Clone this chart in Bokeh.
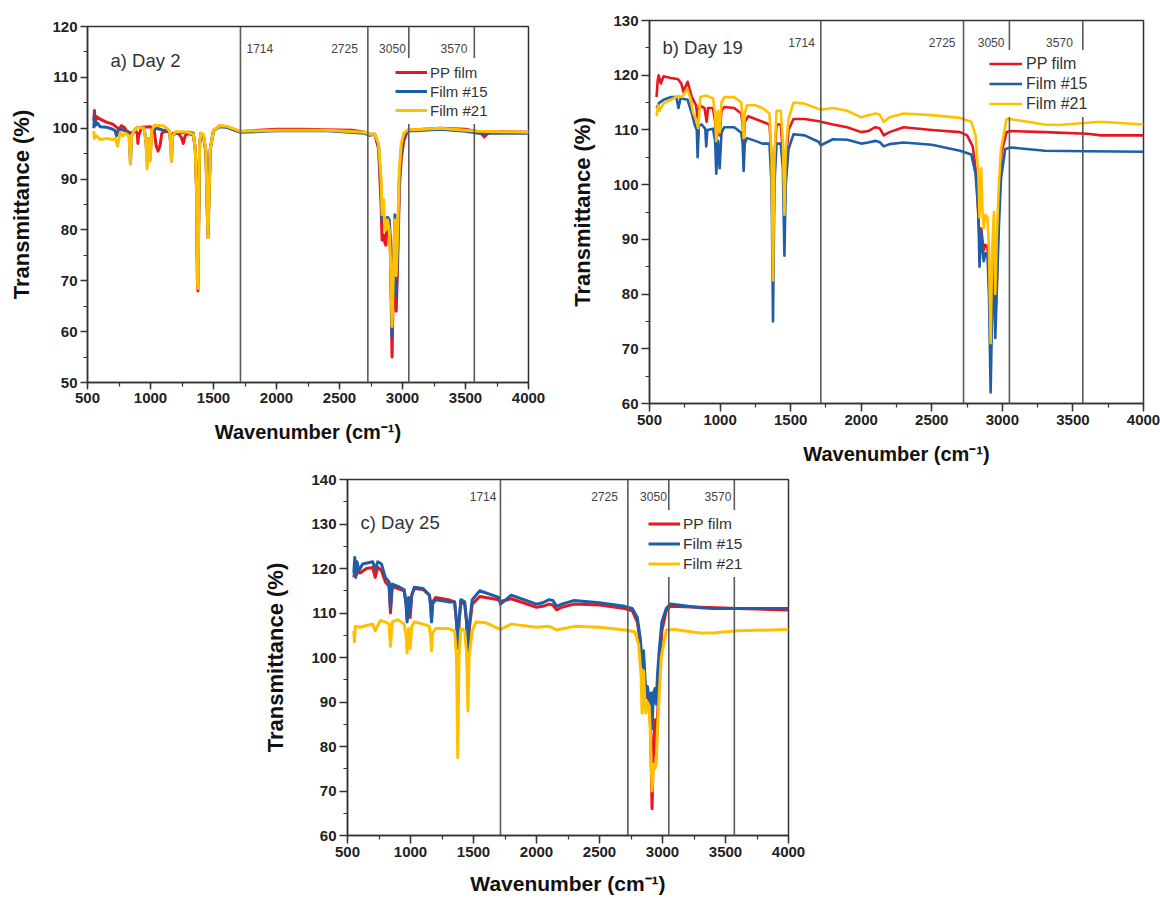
from bokeh.plotting import figure
from bokeh.models import (Span, Label, Legend, LegendItem, SingleIntervalTicker,
                          Range1d, Spacer)
from bokeh.layouts import row, column
from bokeh.embed import file_html
from bokeh.resources import INLINE

# ---------------- data ----------------
SERIES_NAMES = ["PP film", "Film #15", "Film #21"]
COLORS = ["#E8161E", "#1F5EA6", "#FFC000"]
MARK_WN = [1714, 2725, 3050, 3570]
MARK_TXT = ["1714", "2725", "3050", "3570"]

# ----- a) Day 2 -----
A_PP_WN = [550, 555, 560, 570, 600, 650, 700, 730, 750, 770, 790, 810, 841, 880, 895, 900, 905, 930, 1000, 1030, 1045, 1060, 1075, 1090, 1120, 1150, 1167, 1180, 1220, 1245, 1260, 1275, 1300, 1340, 1355, 1365, 1372, 1377, 1382, 1390, 1400, 1420, 1440, 1450, 1456, 1462, 1475, 1500, 1550, 1600, 1650, 1700, 1714, 1800, 2000, 2200, 2400, 2600, 2700, 2740, 2780, 2810, 2830, 2838, 2850, 2860, 2868, 2880, 2895, 2905, 2917, 2928, 2940, 2950, 2960, 2975, 2990, 3010, 3040, 3100, 3300, 3500, 3600, 3630, 3650, 3670, 3700, 3800, 4000]
A_PP_T = [101.5, 103.5, 101.0, 102.3, 101.8, 101.2, 100.8, 100.2, 99.8, 100.5, 100.2, 99.5, 99.0, 99.5, 99.0, 97.0, 98.5, 100.2, 100.3, 99.5, 96.5, 95.5, 96.5, 99.0, 99.5, 99.2, 97.5, 99.0, 99.0, 98.2, 97.0, 98.5, 99.0, 98.6, 96.0, 88.0, 70.0, 68.0, 80.0, 97.0, 98.5, 98.5, 95.0, 84.0, 78.5, 84.0, 96.0, 99.5, 100.5, 100.3, 99.8, 99.4, 99.3, 99.5, 99.8, 99.8, 99.7, 99.6, 99.2, 98.8, 98.8, 96.0, 85.0, 78.0, 79.0, 77.5, 77.0, 82.0, 80.0, 75.0, 55.0, 70.0, 80.0, 64.0, 72.0, 88.0, 94.0, 97.5, 99.5, 99.7, 100.0, 99.8, 99.3, 98.8, 98.3, 98.8, 99.3, 99.3, 99.2]

A_F15_WN = [550, 555, 560, 580, 600, 650, 700, 720, 730, 745, 770, 800, 830, 841, 850, 880, 900, 950, 965, 973, 985, 997, 1010, 1050, 1100, 1150, 1160, 1167, 1175, 1200, 1300, 1340, 1355, 1365, 1372, 1377, 1382, 1390, 1400, 1420, 1440, 1450, 1456, 1462, 1475, 1500, 1550, 1600, 1714, 2000, 2400, 2700, 2740, 2780, 2810, 2830, 2838, 2850, 2860, 2868, 2880, 2895, 2905, 2917, 2928, 2940, 2950, 2960, 2975, 2990, 3010, 3040, 3100, 3300, 3500, 3600, 4000]
A_F15_T = [100.0, 102.5, 100.5, 101.0, 100.3, 100.2, 99.8, 99.5, 98.5, 99.5, 99.8, 99.4, 99.0, 93.0, 98.5, 99.8, 100.2, 100.0, 97.0, 93.5, 98.0, 94.0, 99.5, 100.0, 99.6, 99.3, 97.0, 93.5, 98.5, 99.0, 99.2, 99.0, 96.0, 89.0, 74.0, 73.0, 82.0, 97.0, 99.0, 98.5, 95.5, 85.0, 79.0, 85.0, 96.0, 99.6, 100.3, 100.2, 99.2, 99.5, 99.5, 99.0, 98.6, 98.8, 96.5, 88.0, 82.0, 82.5, 81.0, 82.0, 82.5, 82.0, 78.0, 59.0, 72.0, 83.0, 67.0, 75.0, 90.0, 96.0, 98.5, 99.5, 99.5, 99.8, 99.4, 99.0, 99.0]

A_F21_WN = [550, 555, 570, 600, 650, 700, 722, 738, 760, 780, 800, 830, 841, 850, 870, 900, 950, 965, 973, 985, 997, 1010, 1030, 1100, 1130, 1150, 1160, 1167, 1175, 1200, 1250, 1300, 1340, 1355, 1365, 1372, 1377, 1382, 1390, 1400, 1420, 1440, 1450, 1456, 1462, 1475, 1500, 1550, 1600, 1714, 2000, 2400, 2700, 2740, 2780, 2810, 2830, 2838, 2850, 2860, 2868, 2880, 2895, 2905, 2917, 2928, 2940, 2950, 2960, 2975, 2990, 3010, 3040, 3100, 3300, 3500, 3600, 4000]
A_F21_T = [99.5, 98.0, 98.5, 97.8, 98.0, 97.8, 98.0, 96.5, 99.2, 98.5, 99.0, 98.5, 93.0, 98.5, 99.5, 100.2, 100.0, 97.0, 92.0, 98.0, 93.5, 99.5, 100.6, 100.5, 100.0, 99.5, 97.0, 93.5, 98.5, 99.3, 99.3, 99.2, 98.8, 96.0, 88.0, 70.0, 68.5, 80.0, 97.0, 99.0, 98.8, 95.5, 84.0, 78.5, 84.0, 96.0, 99.6, 100.5, 100.4, 99.4, 99.6, 99.6, 99.2, 98.8, 98.8, 97.0, 90.0, 83.0, 86.0, 80.0, 80.0, 82.0, 80.0, 74.0, 61.0, 72.0, 82.0, 71.0, 78.0, 92.0, 97.0, 99.0, 99.7, 99.7, 100.0, 99.6, 99.4, 99.2]

# ----- b) Day 19 -----
B_PP_WN = [550, 558, 565, 580, 600, 650, 700, 725, 740, 770, 800, 830, 841, 855, 890, 905, 915, 950, 965, 973, 985, 997, 1010, 1030, 1100, 1150, 1160, 1167, 1175, 1200, 1250, 1300, 1350, 1365, 1375, 1385, 1400, 1430, 1445, 1456, 1465, 1485, 1520, 1600, 1700, 1714, 1800, 1900, 2000, 2050, 2100, 2130, 2160, 2200, 2300, 2500, 2700, 2750, 2790, 2815, 2838, 2850, 2868, 2880, 2895, 2905, 2917, 2928, 2940, 2950, 2960, 2975, 2995, 3030, 3060, 3300, 3600, 3700, 4000]
B_PP_T = [116.0, 119.0, 120.0, 118.5, 119.8, 119.5, 119.3, 118.5, 117.0, 118.8, 116.0, 114.5, 112.0, 114.5, 114.0, 111.5, 114.0, 114.0, 111.5, 108.0, 112.0, 109.0, 113.5, 114.2, 114.0, 113.0, 111.0, 107.5, 111.5, 112.5, 112.0, 111.5, 111.0, 105.0, 84.0, 105.0, 111.0, 111.0, 106.0, 93.5, 104.0, 110.0, 112.0, 112.0, 111.6, 111.5, 111.0, 110.5, 109.6, 109.8, 110.5, 110.3, 109.0, 109.6, 110.5, 110.0, 109.6, 109.0, 107.0, 102.0, 90.0, 92.0, 88.0, 89.0, 88.5, 82.0, 72.0, 84.0, 86.0, 75.0, 82.0, 96.0, 106.0, 109.6, 109.8, 109.6, 109.3, 109.0, 109.0]

B_F15_WN = [550, 570, 600, 650, 690, 705, 720, 770, 800, 820, 835, 841, 850, 870, 895, 902, 910, 950, 965, 973, 985, 997, 1010, 1030, 1100, 1150, 1160, 1167, 1175, 1190, 1250, 1300, 1350, 1365, 1375, 1385, 1400, 1430, 1445, 1456, 1465, 1485, 1520, 1600, 1700, 1714, 1800, 1900, 2000, 2050, 2100, 2130, 2160, 2200, 2300, 2500, 2700, 2780, 2810, 2830, 2838, 2850, 2860, 2868, 2880, 2895, 2905, 2917, 2928, 2940, 2950, 2960, 2975, 2990, 3020, 3060, 3300, 3600, 4000]
B_F15_T = [114.0, 115.0, 115.5, 116.0, 116.0, 114.0, 115.8, 115.5, 113.0, 111.0, 110.0, 105.0, 110.8, 111.0, 110.2, 107.0, 110.0, 110.2, 108.0, 102.0, 108.0, 103.0, 109.5, 110.5, 110.5, 109.5, 107.5, 102.5, 107.5, 108.5, 108.0, 107.5, 107.5, 100.0, 75.0, 100.0, 107.5, 107.5, 103.0, 87.0, 100.0, 106.5, 109.2, 109.0, 107.8, 107.2, 108.3, 108.2, 107.5, 107.7, 108.0, 107.8, 107.0, 107.4, 107.7, 107.3, 106.2, 105.5, 102.0, 95.0, 85.0, 91.5, 88.0, 86.0, 87.5, 87.0, 80.0, 62.0, 78.0, 82.0, 72.0, 80.0, 92.0, 101.0, 106.5, 106.8, 106.2, 106.1, 106.0]

B_F21_WN = [550, 560, 570, 600, 650, 700, 730, 767, 790, 810, 830, 845, 860, 900, 950, 965, 973, 985, 997, 1010, 1030, 1100, 1150, 1160, 1167, 1175, 1190, 1250, 1300, 1350, 1365, 1375, 1385, 1400, 1430, 1445, 1456, 1465, 1485, 1520, 1600, 1700, 1714, 1800, 1900, 2000, 2050, 2100, 2130, 2160, 2200, 2300, 2500, 2700, 2780, 2810, 2830, 2838, 2850, 2860, 2868, 2880, 2895, 2905, 2917, 2928, 2940, 2950, 2960, 2975, 2990, 3030, 3100, 3300, 3400, 3600, 3700, 4000]
B_F21_T = [112.5, 114.5, 113.5, 114.8, 115.5, 116.2, 116.0, 117.5, 115.8, 113.0, 112.0, 110.3, 116.0, 116.3, 115.8, 113.0, 108.0, 113.5, 109.5, 115.0, 116.0, 116.0, 115.0, 112.0, 108.5, 113.0, 114.5, 114.5, 114.0, 113.0, 105.0, 82.5, 105.0, 113.5, 113.5, 108.0, 94.5, 106.0, 112.0, 115.0, 114.8, 113.8, 113.7, 114.0, 113.5, 112.3, 112.7, 113.0, 112.8, 111.5, 112.3, 113.0, 112.7, 112.2, 111.5, 109.0, 102.0, 94.0, 103.0, 95.0, 92.0, 94.5, 94.0, 88.0, 71.0, 88.0, 95.0, 80.0, 90.0, 100.0, 106.5, 112.0, 111.8, 111.0, 110.9, 111.3, 111.5, 111.0]

# ----- c) Day 25 -----
C_PP_WN = [550, 560, 570, 585, 600, 650, 700, 720, 740, 770, 800, 830, 841, 855, 900, 950, 965, 973, 985, 997, 1010, 1030, 1100, 1150, 1160, 1167, 1175, 1200, 1300, 1350, 1365, 1375, 1385, 1400, 1430, 1445, 1456, 1465, 1490, 1550, 1700, 1714, 1800, 2000, 2050, 2100, 2130, 2160, 2200, 2300, 2500, 2700, 2760, 2800, 2825, 2838, 2850, 2868, 2880, 2895, 2905, 2917, 2928, 2940, 2950, 2960, 2975, 2995, 3030, 3060, 3300, 3600, 4000]
C_PP_T = [118.0, 120.0, 118.5, 119.5, 119.0, 120.0, 120.2, 118.0, 120.3, 119.5, 117.0, 116.0, 110.0, 116.0, 115.5, 115.0, 112.0, 108.5, 113.0, 109.0, 114.0, 115.5, 115.3, 114.0, 112.0, 108.5, 112.5, 113.5, 113.0, 112.5, 108.0, 103.0, 108.0, 112.5, 112.0, 108.0, 95.0, 106.0, 112.0, 113.7, 113.0, 112.6, 113.2, 111.3, 111.5, 112.0, 111.8, 110.7, 111.3, 112.0, 111.8, 111.0, 110.5, 108.0, 103.0, 98.0, 99.0, 91.0, 92.0, 90.0, 84.0, 66.0, 80.0, 86.0, 78.0, 86.0, 97.0, 106.0, 110.5, 111.5, 111.3, 111.0, 110.7]

C_F15_WN = [550, 558, 565, 575, 590, 620, 700, 720, 740, 770, 800, 830, 841, 855, 900, 950, 965, 973, 985, 997, 1010, 1030, 1100, 1150, 1160, 1167, 1175, 1200, 1300, 1350, 1365, 1375, 1385, 1400, 1430, 1445, 1456, 1465, 1490, 1550, 1700, 1714, 1800, 2000, 2050, 2100, 2130, 2160, 2200, 2300, 2500, 2700, 2760, 2800, 2825, 2838, 2850, 2868, 2880, 2900, 2910, 2917, 2928, 2940, 2950, 2960, 2975, 2995, 3030, 3060, 3300, 3400, 3600, 4000]
C_F15_T = [119.0, 122.5, 118.0, 121.5, 119.5, 121.0, 121.5, 119.8, 121.5, 121.0, 118.0, 117.0, 111.0, 116.5, 116.0, 115.2, 112.0, 108.0, 113.5, 110.0, 114.0, 115.8, 115.5, 114.0, 111.5, 108.0, 112.0, 113.0, 112.5, 112.5, 108.0, 102.0, 108.0, 113.0, 112.5, 108.0, 96.0, 107.0, 113.0, 115.0, 113.5, 112.0, 114.0, 112.0, 112.3, 113.0, 112.8, 111.5, 112.0, 112.8, 112.3, 111.5, 111.0, 109.0, 104.0, 98.0, 101.5, 91.5, 93.5, 89.5, 92.0, 84.0, 92.0, 93.0, 89.5, 96.0, 102.0, 108.0, 111.0, 112.0, 111.2, 111.0, 111.0, 111.0]

C_F21_WN = [550, 555, 562, 600, 650, 700, 720, 760, 800, 830, 841, 855, 900, 950, 965, 973, 985, 997, 1010, 1030, 1100, 1150, 1160, 1167, 1175, 1200, 1300, 1350, 1365, 1375, 1385, 1400, 1430, 1445, 1456, 1465, 1490, 1520, 1600, 1700, 1714, 1800, 2000, 2100, 2160, 2300, 2500, 2700, 2780, 2810, 2830, 2838, 2850, 2860, 2868, 2880, 2895, 2905, 2917, 2928, 2940, 2950, 2960, 2975, 2990, 3030, 3100, 3300, 3400, 3600, 4000]
C_F21_T = [106.0, 103.5, 107.0, 106.8, 107.2, 107.5, 106.0, 108.3, 108.0, 107.5, 102.5, 108.0, 108.5, 107.5, 105.0, 101.0, 106.5, 102.0, 107.0, 108.0, 107.5, 107.0, 104.5, 101.5, 105.5, 106.5, 106.5, 106.0, 100.0, 77.5, 100.0, 106.5, 106.0, 101.0, 88.0, 100.0, 106.0, 108.0, 107.8, 106.5, 106.3, 107.5, 106.8, 107.0, 106.2, 107.0, 106.8, 106.2, 105.8, 103.0, 96.0, 87.5, 97.0, 90.0, 87.5, 90.0, 89.0, 82.0, 70.0, 76.0, 75.0, 76.0, 84.0, 92.0, 100.0, 106.2, 106.3, 105.5, 105.5, 106.0, 106.3]

FONT = "Liberation Sans"


def make_panel(cfg):
    # cfg["fig"]: page position (left, top) and size (width, height) of the figure
    fl, ft, w, h = cfg["fig"]
    L, T, R, B = cfg["frame"]
    ymin, ymax = cfg["yrange"]
    p = figure(width=w, height=h, output_backend="svg", toolbar_location=None,
               x_range=Range1d(500, 4000), y_range=Range1d(ymin, ymax),
               min_border_left=L - fl, min_border_top=T - ft,
               min_border_right=fl + w - R, min_border_bottom=ft + h - B)
    p.xgrid.visible = False
    p.ygrid.visible = False
    p.outline_line_color = "#333333"
    p.outline_line_width = 1.5
    p.background_fill_color = "white"
    p.border_fill_color = "white"

    p.xaxis.ticker = SingleIntervalTicker(interval=500, num_minor_ticks=2)
    p.yaxis.ticker = SingleIntervalTicker(interval=10, num_minor_ticks=2)
    p.xaxis.axis_label = "Wavenumber (cm\u207b\u00b9)"
    p.yaxis.axis_label = "Transmittance (%)"
    for ax in (p.xaxis[0], p.yaxis[0]):
        ax.axis_line_color = "#333333"
        ax.axis_line_width = 1.5
        ax.major_tick_line_color = "#333333"
        ax.minor_tick_line_color = "#333333"
        ax.major_tick_line_width = 1.5
        ax.minor_tick_line_width = 1.2
        ax.major_tick_in = 0
        ax.minor_tick_in = 0
        ax.major_tick_out = cfg["tick"]
        ax.minor_tick_out = 4
        ax.major_label_text_font = FONT
        ax.major_label_text_font_style = "bold"
        ax.major_label_text_font_size = "15px"
        ax.major_label_text_color = "#222222"
        ax.major_label_standoff = 3
        ax.axis_label_text_font = FONT
        ax.axis_label_text_font_style = "bold"
        ax.axis_label_text_color = "#111111"
    p.xaxis.axis_label_text_font_size = cfg["xtitle_size"]
    p.yaxis.axis_label_text_font_size = "22px"
    p.xaxis.axis_label_standoff = cfg["xtitle_standoff"]
    p.yaxis.axis_label_standoff = cfg["ytitle_standoff"]

    rends = []
    for (wn, t), col in zip(cfg["series"], COLORS):
        r = p.line(wn, t, line_color=col, line_width=cfg["lw"], line_join="round")
        rends.append(r)

    # reference lines and their labels
    for wn, txt, (side, gap) in zip(MARK_WN, MARK_TXT, cfg["mark_side"]):
        p.add_layout(Span(location=wn, dimension="height", line_color="#5a5a5a",
                          line_width=1.6))
        p.add_layout(Label(x=wn, y=ymax, x_offset=gap if side == "r" else -gap,
                           y_offset=-cfg["mark_dy"], text=txt,
                           text_align="left" if side == "r" else "right",
                           text_baseline="middle", text_font=FONT,
                           text_font_size="12px", text_color="#444444"))

    # panel title
    tx, ty = cfg["title_pos"]
    p.add_layout(Label(x=500, y=ymax, x_offset=tx - L, y_offset=-(ty - T),
                       text=cfg["title"], text_align="left", text_baseline="middle",
                       text_font=FONT, text_font_size="18.5px", text_color="#333333"))

    lg = cfg["legend"]
    n = 3
    box_h = 2 * lg["pad"] + n * lg["row"] + (n - 1) * lg["spacing"]
    vx = lg["left"] - L
    vy = B - (lg["top"] + box_h)
    legend = Legend(items=[LegendItem(label=nm, renderers=[r]) for nm, r in zip(SERIES_NAMES, rends)],
                    location=(vx, vy), padding=lg["pad"], spacing=lg["spacing"],
                    glyph_width=lg["gw"], glyph_height=lg["row"], label_height=lg["row"],
                    label_standoff=lg["standoff"], label_text_font=FONT,
                    label_text_font_size=lg["font"], label_text_color="#333333",
                    background_fill_color="white", background_fill_alpha=1.0,
                    border_line_alpha=0.0, margin=0)
    p.add_layout(legend)
    return p


# row 1: both figures share the same top (20) and bottom (68) border sizes;
# panel a is pushed down 6px by a spacer so its frame starts at y=26.
pa = make_panel(dict(
    fig=(0, 6, 558, 444), frame=(87, 26, 528, 382), yrange=(50, 120),
    tick=7, xtitle_size="20px", xtitle_standoff=15, ytitle_standoff=15, lw=3,
    series=[(A_PP_WN, A_PP_T), (A_F15_WN, A_F15_T), (A_F21_WN, A_F21_T)],
    mark_side=[("r", 6), ("l", 10), ("l", 3), ("l", 7)], mark_dy=22,
    title="a) Day 2", title_pos=(110, 60),
    legend=dict(left=390, top=58, pad=5, spacing=1, row=18, gw=32, standoff=3, font="15px"),
))

pb = make_panel(dict(
    fig=(558, 0, 602, 471), frame=(649, 20, 1143, 403), yrange=(60, 130),
    tick=8, xtitle_size="20px", xtitle_standoff=15, ytitle_standoff=15, lw=2.6,
    series=[(B_PP_WN, B_PP_T), (B_F15_WN, B_F15_T), (B_F21_WN, B_F21_T)],
    mark_side=[("l", 6), ("l", 8), ("l", 5), ("l", 10)], mark_dy=22,
    title="b) Day 19", title_pos=(662, 47),
    legend=dict(left=985, top=50, pad=4, spacing=1, row=19, gw=33, standoff=4, font="16px"),
))

pc = make_panel(dict(
    fig=(258, 471, 560, 427), frame=(347, 479, 788, 835), yrange=(60, 140),
    tick=8, xtitle_size="21px", xtitle_standoff=12, ytitle_standoff=20, lw=3,
    series=[(C_PP_WN, C_PP_T), (C_F15_WN, C_F15_T), (C_F21_WN, C_F21_T)],
    mark_side=[("l", 4), ("l", 10), ("l", 2), ("l", 3)], mark_dy=17,
    title="c) Day 25", title_pos=(360, 522),
    legend=dict(left=644, top=510, pad=4, spacing=1, row=19, gw=32, standoff=3, font="15.5px"),
))

layout = column(
    row(column(Spacer(width=558, height=6), pa), pb),
    row(Spacer(width=258, height=427), pc),
)
open("out.html", "w").write(file_html(layout, INLINE))
